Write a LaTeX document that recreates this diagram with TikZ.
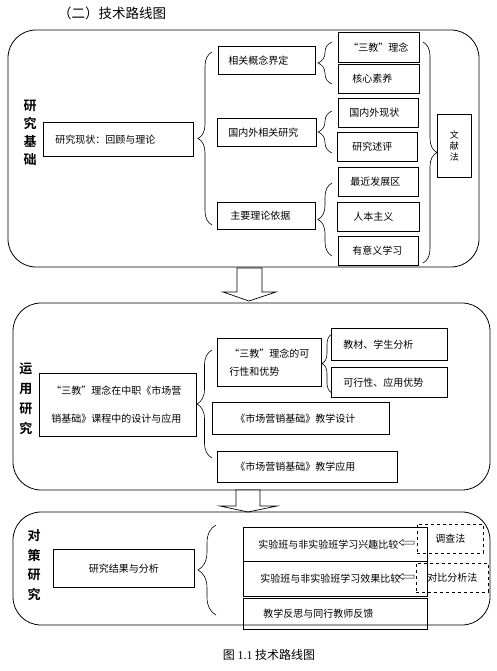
\documentclass[tikz,border=0pt]{standalone}
\usepackage{fontspec}
\setmainfont{Liberation Serif}
\newfontfamily\cjk{Noto Sans CJK SC}
\newfontfamily\cjkb{Noto Sans CJK SC Bold}
\usetikzlibrary{decorations.pathreplacing}

\tikzset{
  bx/.style={draw, line width=0.6pt, anchor=north west, align=left, inner ysep=0pt,
    font=\cjk\fontsize{10}{12}\selectfont},
  dbx/.style={bx, dashed, align=center},
  frame/.style={draw, line width=0.8pt, rounded corners=28pt},
  lbl/.style={align=center, inner sep=0pt, font=\cjkb\fontsize{13}{#1}\selectfont},
  brc/.style={decorate, decoration={brace, amplitude=#1}, line width=0.6pt},
  blk/.style={draw, line width=0.7pt, fill=white},
}

\begin{document}
\begin{tikzpicture}[x=1pt, y=-1pt]
\useasboundingbox (0,0) rectangle (497,671);
\node[font=\cjk\fontsize{13.5}{16}\selectfont] (ttl) at (112,13) {（二）技术路线图};

% 研究基础
\draw[frame] (8,30) rectangle (479,267);
\node[lbl=18] (jc) at (30,133) {研\\究\\基\\础};
\node[bx, inner xsep=12pt, text width=126pt, minimum height=34pt] (xz) at (43,122) {研究现状：回顾与理论};
\node[bx, inner xsep=10pt, text width=77pt, minimum height=28pt] (gn) at (218,46) {相关概念界定};
\node[bx, inner xsep=11pt, text width=77pt, minimum height=28pt] (gw) at (217,118) {国内外相关研究};
\node[bx, inner xsep=13pt, text width=72pt, minimum height=27pt] (yj) at (217,202) {主要理论依据};
\node[bx, inner xsep=10pt, text width=61pt, minimum height=30pt] (sj) at (338,32) {“三教”理念};
\node[bx, inner xsep=14pt, text width=53pt, minimum height=29pt] (hx) at (338,64) {核心素养};
\node[bx, inner xsep=11pt, text width=58pt, minimum height=29pt] (gx) at (338,98) {国内外现状};
\node[bx, inner xsep=15pt, text width=50pt, minimum height=29pt] (sp) at (337,132) {研究述评};
\node[bx, inner xsep=12pt, text width=56pt, minimum height=29pt] (zj) at (338,167) {最近发展区};
\node[bx, inner xsep=16pt, text width=50pt, minimum height=29pt] (rb) at (337,202) {人本主义};
\node[bx, inner xsep=14pt, text width=52pt, minimum height=29pt] (yy) at (338,236) {有意义学习};
\node[bx, align=center, inner xsep=12pt, text width=10pt, minimum height=63pt,
  font=\cjk\fontsize{9}{11}\selectfont] (wx) at (437,114) {文\\献\\法};
\draw[brc=14] (212,225) -- (212,52);
\draw[brc=14] (332,84) -- (332,42);
\draw[brc=14] (332,153) -- (332,111);
\draw[brc=14] (332,256) -- (332,183);
\draw[brc=14] (423,42) -- (423,263);

\draw[blk] (237,268) -- (262,268) -- (262,292) -- (276,292) -- (249,301)
  -- (223,292) -- (237,292) -- cycle;

% 运用研究
\draw[frame] (13,303) rectangle (490,490);
\node[lbl=20] (yyj) at (26,399) {运\\用\\研\\究};
\node[bx, inner xsep=12pt, text width=133pt, minimum height=63pt,
  font=\cjk\fontsize{10}{28}\selectfont] (sn) at (39,373) {“三教”理念在中职《市场营\\销基础》课程中的设计与应用};
\node[bx, inner xsep=12pt, text width=80pt, minimum height=48pt,
  font=\cjk\fontsize{10}{18}\selectfont] (kx) at (217,338) {“三教”理念的可\\行性和优势};
\node[bx, inner xsep=12pt, text width=92pt, minimum height=32pt] (jcf) at (331,328) {教材、学生分析};
\node[bx, inner xsep=12pt, text width=92pt, minimum height=30pt] (kxy) at (331,367) {可行性、应用优势};
\node[bx, inner xsep=23pt, text width=131pt, minimum height=32pt] (jx) at (212,402) {《市场营销基础》教学设计};
\node[bx, inner xsep=18pt, text width=144pt, minimum height=31pt] (jyy) at (217,451) {《市场营销基础》教学应用};
\draw[brc=15] (212,458) -- (212,350);
\draw[brc=10] (332,393) -- (332,334);

\draw[blk] (236,490) -- (260,490) -- (260,506) -- (277,506) -- (248,512)
  -- (220,506) -- (236,506) -- cycle;

% 对策研究
\draw[frame] (13,512) rectangle (490,625);
\node[lbl=19.5] (dc) at (34,565) {对\\策\\研\\究};
\node[bx, align=center, inner xsep=12pt, text width=117pt, minimum height=38pt] (jg) at (53,549) {研究结果与分析};
\node[bx, inner xsep=15pt, text width=154pt, minimum height=34pt] (xq) at (243,527) {实验班与非实验班学习兴趣比较};
\node[bx, inner xsep=17pt, text width=150pt, minimum height=35pt] (xg) at (243,561) {实验班与非实验班学习效果比较};
\node[bx, inner xsep=20pt, text width=144pt, minimum height=31pt] (fs) at (243,598) {教学反思与同行教师反馈};
\node[dbx, inner xsep=8pt, text width=50pt, minimum height=29pt] (dcf) at (417,524) {调查法};
\node[dbx, inner xsep=8pt, text width=56pt, minimum height=29pt] (dbf) at (416,563) {对比分析法};
\draw[brc=18] (216,615) -- (216,525);
\draw[line width=0.5pt] (414,541) -- (403,541) -- (403,539.5) -- (399,542.5) -- (403,545.5)
  -- (403,544) -- (414,544) -- cycle;
\draw[line width=0.5pt] (414,575) -- (403,575) -- (403,573.5) -- (399,576.5) -- (403,579.5)
  -- (403,578) -- (414,578) -- cycle;

\node[font=\cjk\fontsize{12}{14}\selectfont] (cap) at (269,655) {图 {\rmfamily 1.1} 技术路线图};
\end{tikzpicture}
\end{document}
